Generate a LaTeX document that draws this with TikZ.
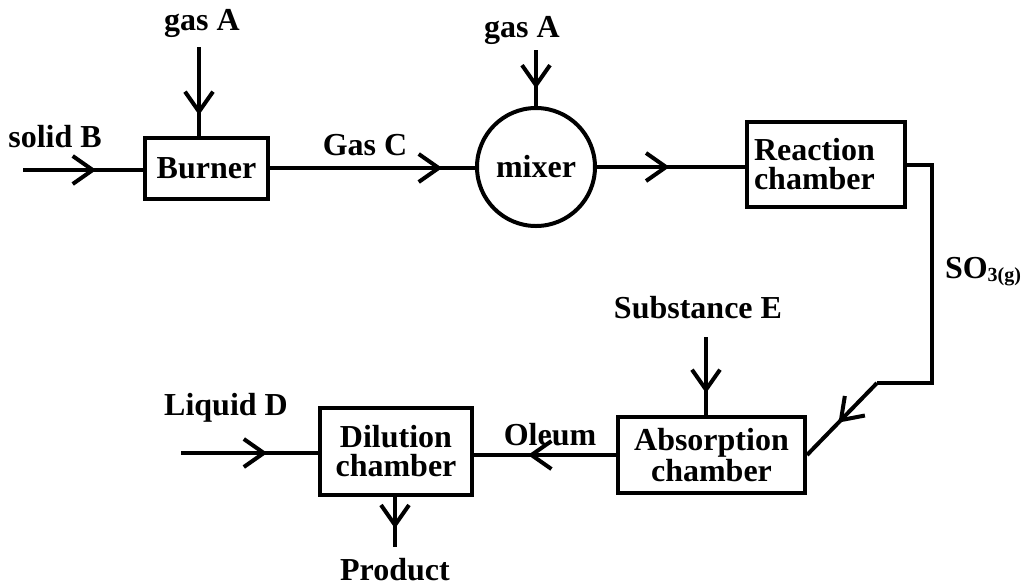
\documentclass[tikz,border=0pt]{standalone}
\usepackage{fontspec}
\setmainfont{Liberation Serif}
\usetikzlibrary{arrows.meta,decorations.markings}

\begin{document}
\begin{tikzpicture}[x=0.5pt, y=-0.5pt, line width=2pt,
    every node/.style={font=\bfseries\fontsize{16}{14.5}\selectfont},
    chamber/.style={rectangle, draw, align=center, inner sep=0pt},
    flow/.style={postaction={decorate, decoration={markings,
        mark=at position #1 with {\arrow{Straight Barb[length=10pt, width=14pt]}}}}}]
    \useasboundingbox (0,0) rectangle (1024,585);

    % Units of the plant
    \node[chamber, minimum width=61.5pt, minimum height=30.5pt] (burner) at (206.5,168) {Burner};
    \node[circle, draw, minimum size=59pt, inner sep=0pt] (mixer) at (536,167) {mixer};
    \node[chamber, minimum width=79pt, minimum height=42.5pt, text width=72pt, align=left] (reaction) at (826,164.5) {Reaction\\chamber};
    \node[chamber, minimum width=93.5pt, minimum height=38pt] (absorb) at (711.5,455) {Absorption\\chamber};
    \node[chamber, minimum width=76pt, minimum height=43.5pt] (dilute) at (396,451.5) {Dilution\\chamber};

    % Stream labels
    \node (gasA) at (202,23) {gas A};
    \node (gasAmix) at (522,30) {gas A};
    \node (solidB) at (55,137) {solid B};
    \node (gasC) at (365,145) {Gas C};
    \node (sothree) at (983,272) {SO{\fontsize{10}{10}\selectfont\raisebox{-1.5pt}{3(g)}}};
    \node (substE) at (698,308) {Substance E};
    \node (liquidD) at (226,408) {Liquid D};
    \node (oleum) at (550,435) {Oleum};
    \node (product) at (395,570) {Product};

    % Top line
    \coordinate (solidin) at (23,170);
    \draw[flow=0.61] (solidin) -- (solidin -| burner.west);
    \coordinate (burnerin) at (199,47);
    \draw[flow=0.77] (burnerin) -- (burnerin |- burner.north);
    \draw[flow=0.84] (burner.east) -- (burner.east -| mixer.west);
    \coordinate (mixerin) at (536,50);
    \draw[flow=0.69] (mixerin) -- (mixer.north);
    \draw[flow=0.49] (mixer.east) -- (mixer.east -| reaction.west);

    % SO3 down to the absorber
    \coordinate (bend) at (932,383);
    \coordinate (kink) at (877,383);
    \draw (reaction.east) -| (bend) -- (kink);
    \draw[flow=0.55] (kink) -- (absorb.east);

    % Bottom line
    \coordinate (substin) at (706,337);
    \draw[flow=0.72] (substin) -- (substin |- absorb.north);
    \draw[flow=0.62] (absorb.west) -- (absorb.west -| dilute.east);
    \coordinate (liquidin) at (181,453);
    \draw[flow=0.63] (liquidin) -- (liquidin -| dilute.west);
    \coordinate (prodout) at (395,547);
    \draw[flow=0.63] (prodout |- dilute.south) -- (prodout);
\end{tikzpicture}
\end{document}
